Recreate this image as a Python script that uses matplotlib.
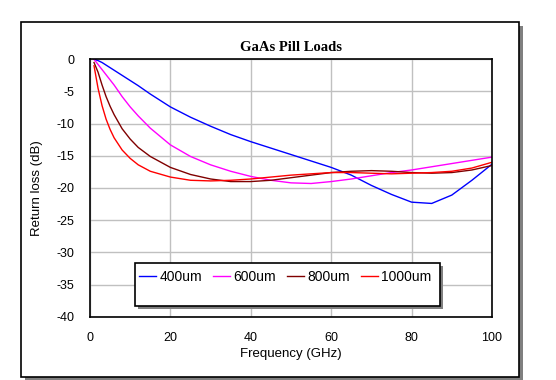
import matplotlib
matplotlib.use("Agg")
import matplotlib.pyplot as plt
from matplotlib.patches import Rectangle

plt.rcParams["axes.unicode_minus"] = False

freq = [1, 2, 3, 4, 5, 6, 8, 10, 12, 15, 20, 25, 30, 35, 40, 45, 50, 55, 60,
        65, 70, 75, 80, 85, 90, 95, 100]
rl_400 = [0, -0.2, -0.5, -0.9, -1.3, -1.7, -2.5, -3.3, -4.1, -5.4, -7.4, -9.0,
          -10.4, -11.7, -12.8, -13.8, -14.8, -15.8, -16.8, -18.0, -19.6, -21.0,
          -22.2, -22.4, -21.1, -18.8, -16.3]
rl_600 = [0, -0.8, -1.6, -2.4, -3.2, -4.0, -5.8, -7.4, -8.8, -10.7, -13.3, -15.1,
          -16.4, -17.4, -18.2, -18.8, -19.2, -19.3, -19.0, -18.6, -18.1, -17.6,
          -17.2, -16.7, -16.2, -15.7, -15.2]
rl_800 = [-0.5, -2.0, -4.0, -5.8, -7.3, -8.6, -10.8, -12.4, -13.7, -15.1, -16.8,
          -17.9, -18.6, -19.0, -19.0, -18.8, -18.4, -18.0, -17.6, -17.4, -17.3,
          -17.4, -17.6, -17.7, -17.6, -17.2, -16.5]
rl_1000 = [-1.0, -4.5, -7.2, -9.3, -10.9, -12.2, -14.1, -15.4, -16.4, -17.4, -18.3,
           -18.8, -18.9, -18.8, -18.6, -18.3, -18.0, -17.8, -17.6, -17.6, -17.7,
           -17.8, -17.7, -17.6, -17.4, -16.9, -16.0]
series_labels = ["400um", "600um", "800um", "1000um"]
series_colors = ["#0000ff", "#ff00ff", "#800000", "#ff0000"]
x_ticks = [0, 20, 40, 60, 80, 100]
y_ticks = [0, -5, -10, -15, -20, -25, -30, -35, -40]

W, H = 556, 380
fig = plt.figure(figsize=(W / 100, H / 100), dpi=100)
fig.patch.set_facecolor("white")

def fx(px):
    return px / W

def fy(py):
    return 1 - py / H

# outer frame with shadow
fig.patches.append(Rectangle((fx(25), fy(381)), fx(519 - 21), (377 - 22) / H,
                             transform=fig.transFigure, facecolor="#808080",
                             edgecolor="none", zorder=0))
fig.patches.append(Rectangle((fx(21), fy(377)), fx(519 - 21), (377 - 22) / H,
                             transform=fig.transFigure, facecolor="white",
                             edgecolor="black", linewidth=1.2, zorder=1))

ax = fig.add_axes([fx(90), fy(316.7), fx(492 - 90), (316.7 - 59.3) / H])
ax.set_zorder(2)
ax.set_xlim(0, 100)
ax.set_ylim(-40, 0)
ax.set_xticks(x_ticks)
ax.set_yticks(y_ticks)
ax.grid(True, color="#c0c0c0", linewidth=1)
ax.set_axisbelow(True)
ax.tick_params(axis="y", length=0, labelsize=9, pad=11)
ax.tick_params(axis="x", length=0, labelsize=9, pad=11)
for lab in ax.get_xticklabels() + ax.get_yticklabels():
    lab.set_family("Liberation Sans")
for s in ax.spines.values():
    s.set_linewidth(1.2)

series = [rl_400, rl_600, rl_800, rl_1000]
handles = []
for vals, lab, col in zip(series, series_labels, series_colors):
    h, = ax.plot(freq, vals, color=col, linewidth=1.0, label=lab)
    handles.append(h)

ax.set_title("GaAs Pill Loads", family="Liberation Serif", fontweight="bold",
             fontsize=10.5, pad=6)
ax.set_xlabel("Frequency (GHz)", family="Liberation Sans", fontsize=9.5, labelpad=3)
ax.set_ylabel("Return loss (dB)", family="Liberation Sans", fontsize=9.5, labelpad=10)

# legend box with shadow
lx0, lx1 = (134.7 - 90) / 402, (440 - 90) / 402
ly0, ly1 = (316.7 - 306) / 257.4, (316.7 - 262.7) / 257.4
ax.add_patch(Rectangle((lx0 + 3 / 402, ly0 - 3 / 257.4), lx1 - lx0, ly1 - ly0,
                       transform=ax.transAxes, facecolor="#808080",
                       edgecolor="none", zorder=5, clip_on=False))
ax.add_patch(Rectangle((lx0, ly0), lx1 - lx0, ly1 - ly0,
                       transform=ax.transAxes, facecolor="white",
                       edgecolor="black", linewidth=1.2, zorder=6, clip_on=False))
leg = ax.legend(handles=handles, ncol=4, frameon=False, loc="upper left",
                bbox_to_anchor=(lx0 - 0.01, ly1 + 0.005),
                prop={"family": "Liberation Sans", "size": 10},
                handlelength=1.25, handletextpad=0.25, columnspacing=0.75,
                borderaxespad=0.2)
leg.set_zorder(7)

fig.savefig("out.png", dpi=100)
